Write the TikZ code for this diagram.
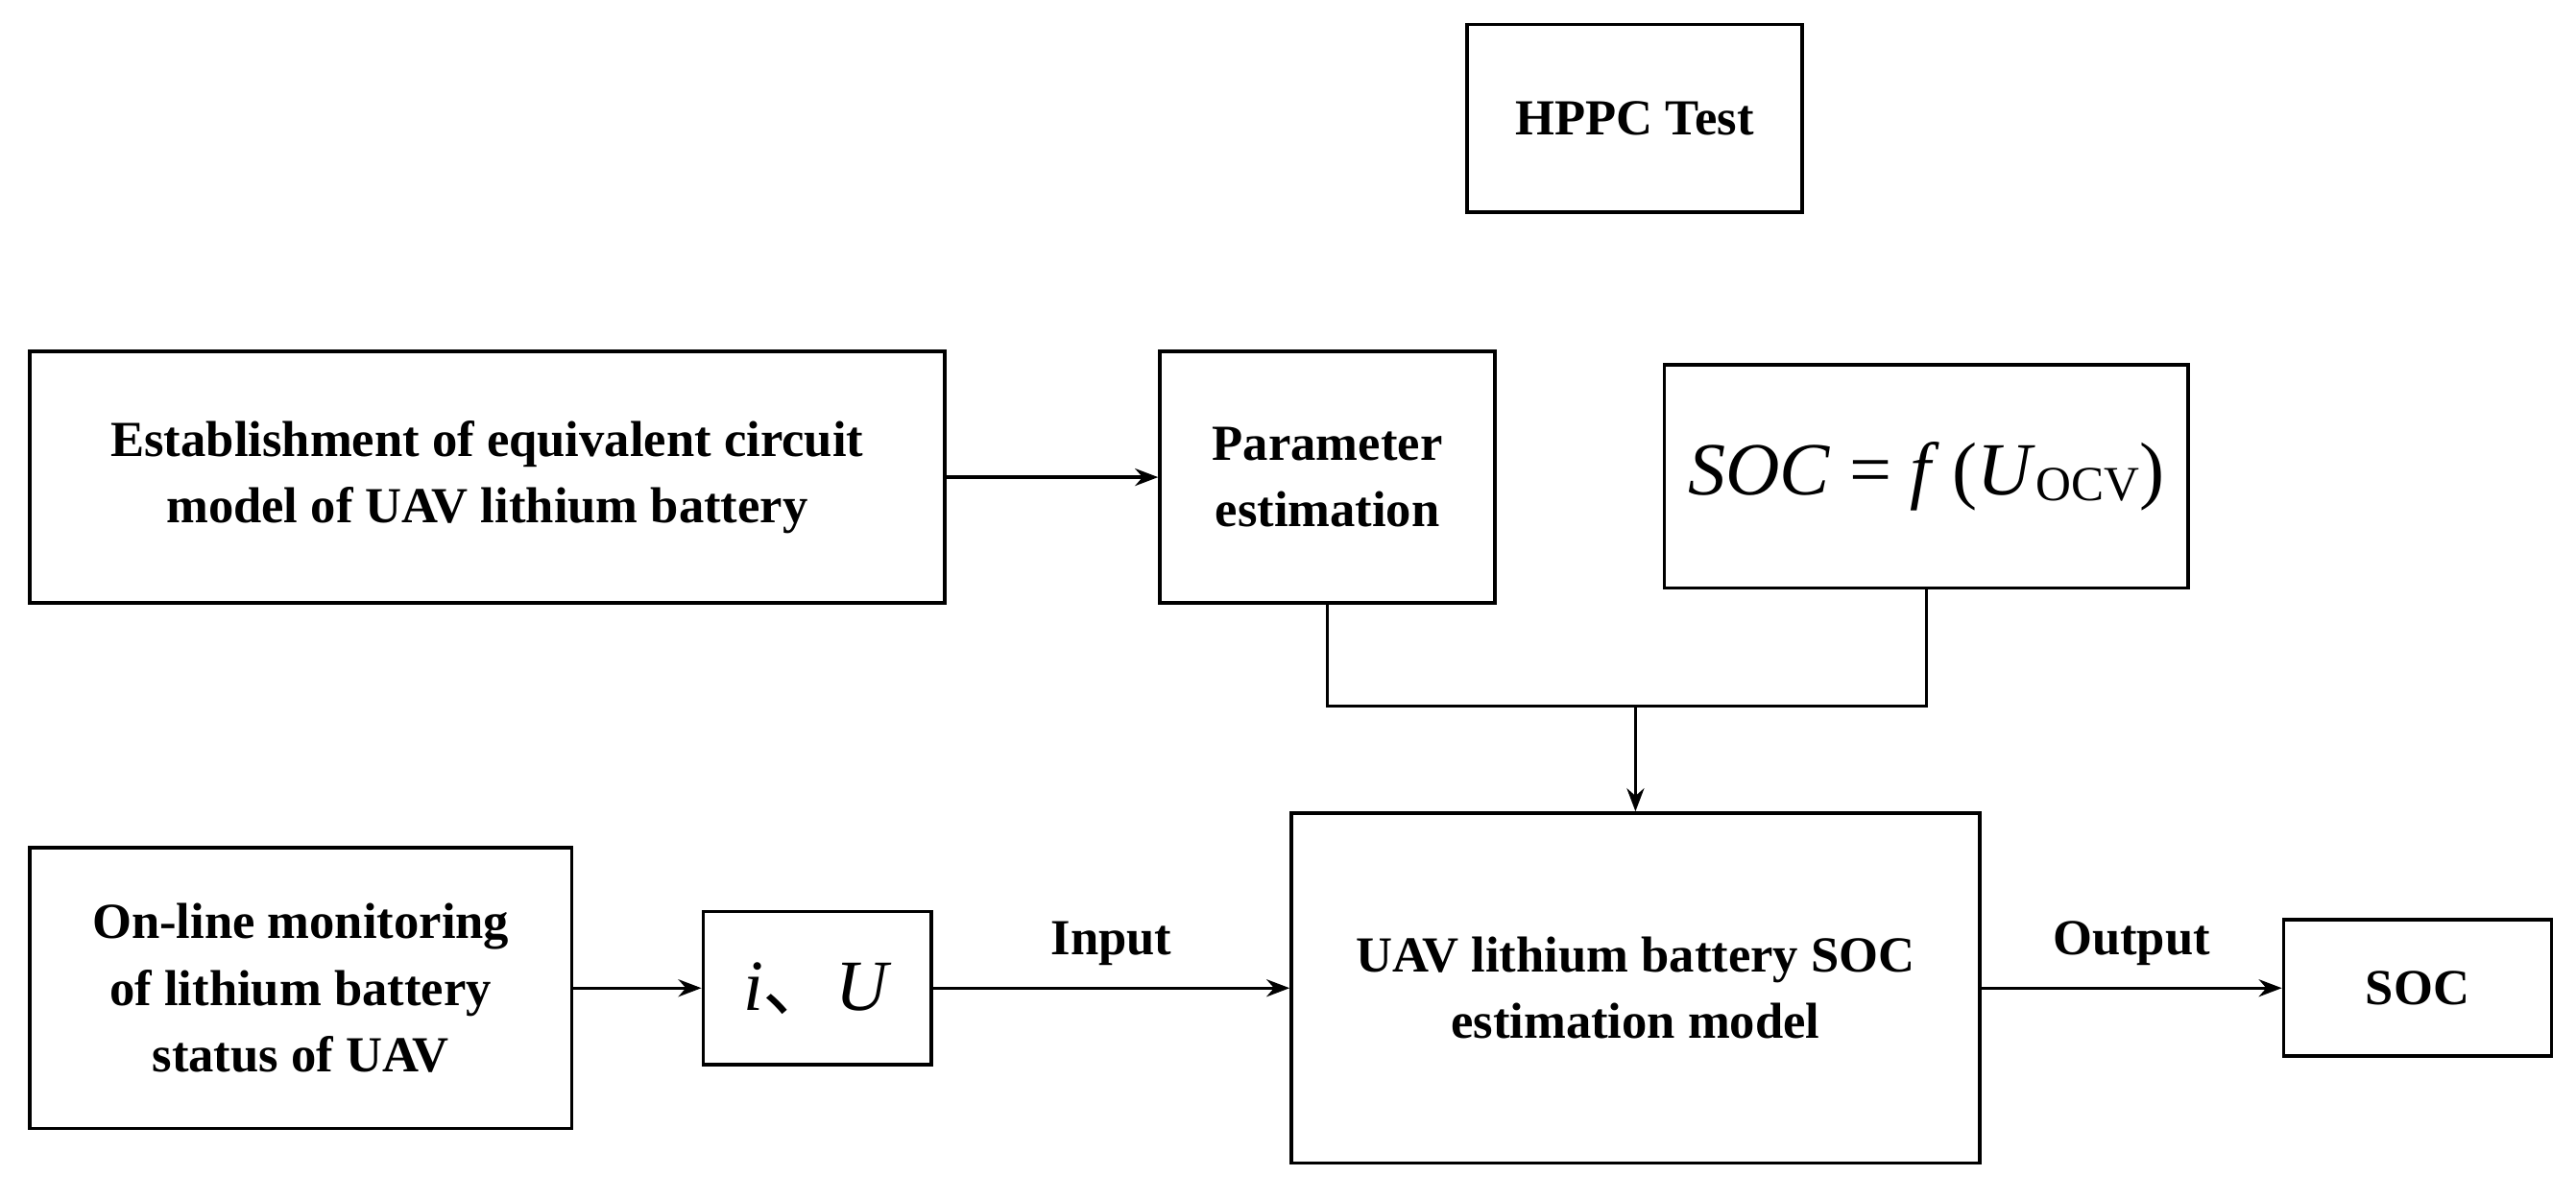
\documentclass[tikz,border=0pt]{standalone}
\usepackage{fontspec}
\setmainfont{Liberation Serif}
\newfontfamily\cjk{Noto Sans CJK SC}
\usetikzlibrary{arrows.meta, positioning}

\begin{document}
\begin{tikzpicture}[
    x=0.02cm, y=-0.02cm,
    box/.style={rectangle, draw=black, line width=1.2pt, align=center, font=\fontsize{17.5}{23}\selectfont\bfseries, inner sep=0pt},
    arrow/.style={-{Stealth[length=8pt,width=6pt]}, line width=1.1pt},
    line/.style={line width=1.1pt},
    lbl/.style={font=\fontsize{17.5}{21}\selectfont\bfseries}
]
\useasboundingbox (0,0) rectangle (1568,730);

% Top row
\node[box, minimum width=4.08cm, minimum height=2.28cm] (hppc) at (995,72) {HPPC Test};
\node[box, minimum width=11.14cm, minimum height=3.06cm] (circuit) at (296.5,290.5) {Establishment of equivalent circuit\\model of UAV lithium battery};
\node[box, minimum width=4.08cm, minimum height=3.06cm] (param) at (808,290.5) {Parameter\\estimation};
\node[box, minimum width=6.38cm, minimum height=2.72cm, font=\fontsize{26}{30}\selectfont] (socf) at (1172.5,290) {\textit{SOC} = \textit{f}\,(\textit{U}{\fontsize{17}{20}\selectfont\raisebox{-0.25ex}{OCV}})};

% Bottom row
\node[box, minimum width=6.6cm, minimum height=3.42cm] (monitor) at (183,601.5) {On-line monitoring\\of lithium battery\\status of UAV};
\node[box, minimum width=2.78cm, minimum height=1.86cm, font=\fontsize{25}{28}\selectfont] (iu) at (497.5,601.5) {\textit{i}{\cjk 、}\textit{U}};
\node[box, minimum width=8.38cm, minimum height=4.26cm] (model) at (995.5,601.5) {UAV lithium battery SOC\\estimation model};
\node[box, minimum width=3.26cm, minimum height=1.66cm] (soc) at (1471.5,601.5) {SOC};

% Junction
\coordinate (join) at (995.5,430);

% Arrows
\draw[arrow] (circuit) -- (param);
\draw[line] (param.south) |- (join) -| (socf.south);
\draw[arrow] (join) -- (model.north);
\draw[arrow] (monitor) -- (iu);
\draw[arrow] (iu) -- node[lbl, above=4pt] {Input} (model);
\draw[arrow] (model) -- node[lbl, above=4pt] {Output} (soc);

\end{tikzpicture}
\end{document}
